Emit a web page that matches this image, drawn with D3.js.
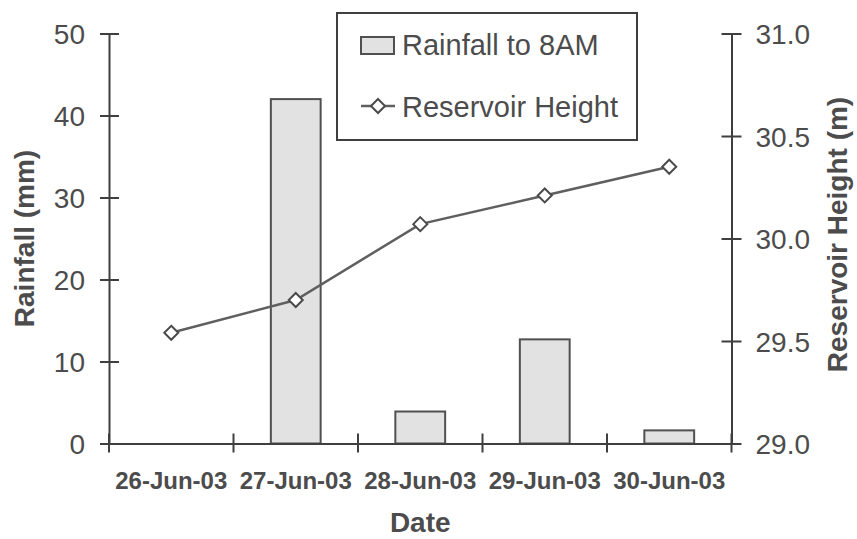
<!DOCTYPE html>
<html>
<head>
<meta charset="utf-8">
<script src="https://cdn.jsdelivr.net/npm/d3@7"></script>
<style>
  html, body { margin: 0; padding: 0; background: #fff; }
  svg { display: block; }
  text { font-family: "Liberation Sans", Arial, Helvetica, sans-serif; fill: #4c4c4c; }
</style>
</head>
<body>
<svg id="chart" width="857" height="539"></svg>
<script>
// Daily rainfall and reservoir level, late June 2003
const dates = ["26-Jun-03", "27-Jun-03", "28-Jun-03", "29-Jun-03", "30-Jun-03"];
const rainfall = [0, 42.0, 3.9, 12.7, 1.6];           // mm, to 8AM
const reservoirHeight = [29.54, 29.70, 30.07, 30.21, 30.35]; // m
const rainTicks = [0, 10, 20, 30, 40, 50];
const heightTicks = [29.0, 29.5, 30.0, 30.5, 31.0];

const svg = d3.select("#chart");
const plot = { left: 109, right: 731.5, top: 33.5, bottom: 443.5 };
const axisColor = "#3f3f3f";
const inkColor = "#4c4c4c";

const x = d3.scaleBand().domain(dates).range([plot.left, plot.right]).padding(0);
const yRain = d3.scaleLinear().domain([0, 50]).range([plot.bottom, plot.top]);
const yHeight = d3.scaleLinear().domain([29.0, 31.0]).range([plot.bottom, plot.top]);

// Bars
const barW = x.bandwidth() * 0.4;
svg.append("g").selectAll("rect")
  .data(dates.map((d, i) => ({ d, v: rainfall[i] })).filter(o => o.v > 0))
  .join("rect")
  .attr("x", o => x(o.d) + x.bandwidth() / 2 - barW / 2)
  .attr("y", o => yRain(o.v))
  .attr("width", barW)
  .attr("height", o => yRain(0) - yRain(o.v))
  .attr("fill", "#e2e2e2")
  .attr("stroke", "#505050")
  .attr("stroke-width", 2);

// Left axis
const gL = svg.append("g").attr("transform", `translate(${plot.left},0)`)
  .call(d3.axisLeft(yRain).tickValues(rainTicks).tickSize(0).tickPadding(24).tickFormat(d3.format("d")));
gL.select(".domain").attr("stroke", axisColor).attr("stroke-width", 2);
gL.selectAll(".tick line").remove();
gL.selectAll(".tick").append("line").attr("x1", -9).attr("x2", 10)
  .attr("stroke", axisColor).attr("stroke-width", 2);
gL.selectAll(".tick text").attr("font-size", 28).attr("fill", inkColor).attr("dy", "0.36em")
  .style("font-family", "'Liberation Sans', Arial, sans-serif");

// Right axis
const gR = svg.append("g").attr("transform", `translate(${plot.right},0)`)
  .call(d3.axisRight(yHeight).tickValues(heightTicks).tickSize(0).tickPadding(24).tickFormat(d3.format(".1f")));
gR.select(".domain").attr("stroke", axisColor).attr("stroke-width", 2);
gR.selectAll(".tick line").remove();
gR.selectAll(".tick").append("line").attr("x1", -10).attr("x2", 10)
  .attr("stroke", axisColor).attr("stroke-width", 2);
gR.selectAll(".tick text").attr("font-size", 28).attr("fill", inkColor).attr("dy", "0.36em")
  .style("font-family", "'Liberation Sans', Arial, sans-serif");

// Bottom axis: tick marks between categories, labels centred in each band
const gB = svg.append("g").attr("transform", `translate(0,${plot.bottom})`)
  .call(d3.axisBottom(x).tickSize(0).tickPadding(0));
gB.select(".domain").attr("stroke", axisColor).attr("stroke-width", 2);
gB.selectAll(".tick line").remove();
gB.selectAll(".tick text")
  .attr("y", 45.5).attr("dy", 0)
  .attr("font-size", 24).attr("font-weight", "bold").attr("fill", inkColor)
  .style("font-family", "'Liberation Sans', Arial, sans-serif");
const bounds = dates.map(d => x(d)).concat([x(dates[dates.length - 1]) + x.bandwidth()]);
gB.append("g").selectAll("line").data(bounds).join("line")
  .attr("x1", d => d).attr("x2", d => d).attr("y1", -10).attr("y2", 9)
  .attr("stroke", axisColor).attr("stroke-width", 2);

// Reservoir height line with diamond markers
const cx = i => x(dates[i]) + x.bandwidth() / 2;
const line = d3.line().x((v, i) => cx(i)).y(v => yHeight(v));
svg.append("path").datum(reservoirHeight)
  .attr("d", line).attr("fill", "none").attr("stroke", "#5f5f5f").attr("stroke-width", 2.5);
const diamond = "M0,-7L7,0L0,7L-7,0Z";
svg.append("g").selectAll("path").data(reservoirHeight).join("path")
  .attr("transform", (v, i) => `translate(${cx(i)},${yHeight(v)})`)
  .attr("d", diamond).attr("fill", "#fff").attr("stroke", "#4a4a4a").attr("stroke-width", 2);

// Axis titles
svg.append("text").attr("transform", `translate(34,${(plot.top + plot.bottom) / 2}) rotate(-90)`)
  .attr("text-anchor", "middle").attr("font-size", 28).attr("font-weight", "bold").text("Rainfall (mm)");
svg.append("text").attr("transform", `translate(847,${(plot.top + plot.bottom) / 2 - 4}) rotate(-90)`)
  .attr("text-anchor", "middle").attr("font-size", 28).attr("font-weight", "bold").text("Reservoir Height (m)");
svg.append("text").attr("x", (plot.left + plot.right) / 2).attr("y", 532)
  .attr("text-anchor", "middle").attr("font-size", 28).attr("font-weight", "bold").text("Date");

// Legend
const lg = svg.append("g");
lg.append("rect").attr("x", 337).attr("y", 13).attr("width", 300).attr("height", 127)
  .attr("fill", "#fff").attr("stroke", axisColor).attr("stroke-width", 2);
lg.append("rect").attr("x", 361).attr("y", 37).attr("width", 33).attr("height", 17)
  .attr("fill", "#e2e2e2").attr("stroke", "#505050").attr("stroke-width", 2);
lg.append("text").attr("x", 402).attr("y", 55).attr("font-size", 29).text("Rainfall to 8AM");
lg.append("line").attr("x1", 361).attr("x2", 395).attr("y1", 106).attr("y2", 106)
  .attr("stroke", "#5f5f5f").attr("stroke-width", 2.5);
lg.append("path").attr("transform", "translate(378,106)").attr("d", diamond)
  .attr("fill", "#fff").attr("stroke", "#4a4a4a").attr("stroke-width", 2);
lg.append("text").attr("x", 402).attr("y", 117).attr("font-size", 29).text("Reservoir Height");
</script>
</body>
</html>
